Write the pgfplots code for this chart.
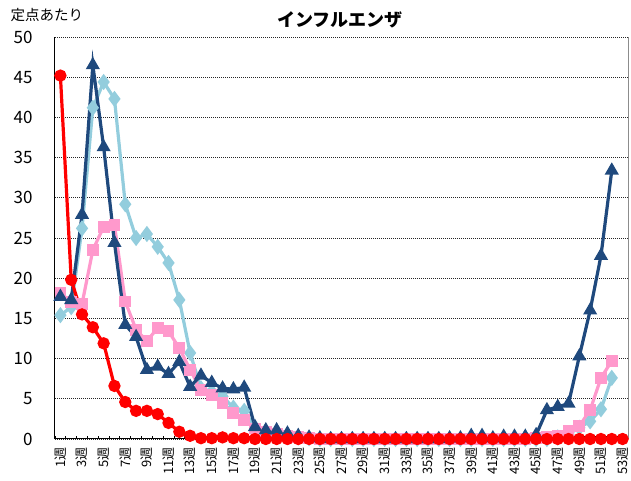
\documentclass[border=0pt]{standalone}
\usepackage{fontspec}
\setmainfont{Noto Sans CJK JP}
\usepackage{pgfplots}
\pgfplotsset{compat=1.18}
\definecolor{cRed}{RGB}{255,0,0}
\definecolor{cLight}{RGB}{147,205,221}
\definecolor{cPink}{RGB}{255,153,204}
\definecolor{cNavy}{RGB}{31,73,125}
\begin{document}
\begin{tikzpicture}
\useasboundingbox (0,0) rectangle (631bp,481bp);
\node[font=\fontsize{14.5bp}{16bp}\selectfont, anchor=west] at (7bp,466bp) {定点あたり};
\node[font=\fontsize{18bp}{20bp}\selectfont\bfseries] at (340bp,461bp) {インフルエンザ};
\begin{axis}[
    at={(55bp,42bp)}, anchor=south west,
    scale only axis, width=573bp, height=402bp,
    xmin=0.5, xmax=53.5, ymin=0, ymax=50,
    clip=false,
    axis x line*=bottom, axis y line*=left,
    axis line style={black, line width=1bp},
    ytick={0,5,...,50},
    ytick style={draw=none},
    yticklabel style={font=\fontsize{17bp}{19bp}\selectfont, xshift=-19bp},
    /pgf/number format/assume math mode=true,
    xtick={1,3,...,53},
    xticklabels={1週,3週,5週,7週,9週,11週,13週,15週,17週,19週,21週,23週,25週,27週,29週,31週,33週,35週,37週,39週,41週,43週,45週,47週,49週,51週,53週},
    xticklabel style={font=\fontsize{13bp}{14bp}\selectfont, rotate=90, anchor=east},
    xticklabel shift=5bp,
    major x tick style={draw=none},
    minor xtick={0.5,1.5,...,53.5},
    minor x tick style={black, line width=0.8bp},
    minor tick length=3bp,
    tick align=inside,
    ymajorgrids=true,
    grid style={black!85, dash pattern=on 1bp off 1bp, line width=0.8bp},
    every axis plot/.append style={line width=3.2bp, mark options={solid}},
  ]
  % 右側の枠線
  \draw[black!45, line width=1bp] (rel axis cs:1,0) -- (rel axis cs:1,1);

  % 水色
  \addplot[color=cLight, mark=diamond*, mark size=5.5bp] coordinates {
    (1,15.4) (2,16.4) (3,26.2) (4,41.2) (5,44.4) (6,42.3) (7,29.2) (8,25.0)
    (9,25.5) (10,23.9) (11,21.9) (12,17.3) (13,10.7) (14,6.3) (15,5.9) (16,5.3)
    (17,3.9) (18,3.5) (19,1.4) (20,0.8) (21,0.5) (22,0.3) (23,0.2) (24,0.1)
    (25,0) (26,0) (27,0) (28,0) (29,0) (30,0) (31,0) (32,0) (33,0) (34,0)
    (35,0) (36,0) (37,0) (38,0) (39,0) (40,0) (41,0) (42,0) (43,0) (44,0)
    (45,0) (46,0) (47,0.2) (48,0.6) (49,1.4) (50,2.2) (51,3.7) (52,7.6)
  };
  % ピンク
  \addplot[color=cPink, mark=square*, mark size=4.3bp] coordinates {
    (1,18.2) (2,17.0) (3,16.8) (4,23.5) (5,26.4) (6,26.6) (7,17.1) (8,13.6)
    (9,12.2) (10,13.8) (11,13.4) (12,11.3) (13,8.6) (14,6.1) (15,5.5) (16,4.5)
    (17,3.2) (18,2.4) (19,1.3) (20,0.9) (21,0.6) (22,0.4) (23,0.2) (24,0.1)
    (25,0) (26,0) (27,0) (28,0) (29,0) (30,0) (31,0) (32,0) (33,0) (34,0)
    (35,0) (36,0) (37,0) (38,0) (39,0) (40,0) (41,0) (42,0) (43,0) (44,0)
    (45,0.1) (46,0.2) (47,0.4) (48,1.0) (49,1.6) (50,3.6) (51,7.6) (52,9.7)
  };
  % 紺
  \addplot[color=cNavy, mark=triangle*, mark size=5bp] coordinates {
    (1,17.7) (2,17.3) (3,27.9) (4,46.5) (5,36.3) (6,24.4) (7,14.2) (8,12.7)
    (9,8.6) (10,9.0) (11,8.1) (12,9.6) (13,6.5) (14,7.9) (15,7.0) (16,6.3)
    (17,6.2) (18,6.4) (19,1.5) (20,1.1) (21,1.1) (22,0.7) (23,0.4) (24,0.2)
    (25,0.1) (26,0) (27,0) (28,0) (29,0) (30,0) (31,0) (32,0) (33,0) (34,0)
    (35,0) (36,0) (37,0.1) (38,0.1) (39,0.4) (40,0.4) (41,0.1) (42,0.3) (43,0.3)
    (44,0.3) (45,0.5) (46,3.6) (47,4.0) (48,4.4) (49,10.3) (50,16.0) (51,22.8) (52,33.4)
  };
  % 赤
  \addplot[color=cRed, mark=*, mark size=4.5bp] coordinates {
    (1,45.2) (2,19.8) (3,15.5) (4,13.9) (5,11.9) (6,6.6) (7,4.6) (8,3.5)
    (9,3.5) (10,3.1) (11,2.0) (12,0.9) (13,0.4) (14,0.1) (15,0.1) (16,0.2)
    (17,0.1) (18,0.1) (19,0) (20,0) (21,0) (22,0) (23,0) (24,0) (25,0) (26,0)
    (27,0) (28,0) (29,0) (30,0) (31,0) (32,0) (33,0) (34,0) (35,0) (36,0)
    (37,0) (38,0) (39,0) (40,0) (41,0) (42,0) (43,0) (44,0) (45,0) (46,0)
    (47,0) (48,0) (49,0) (50,0) (51,0) (52,0) (53,0)
  };
\end{axis}
\end{tikzpicture}
\end{document}
